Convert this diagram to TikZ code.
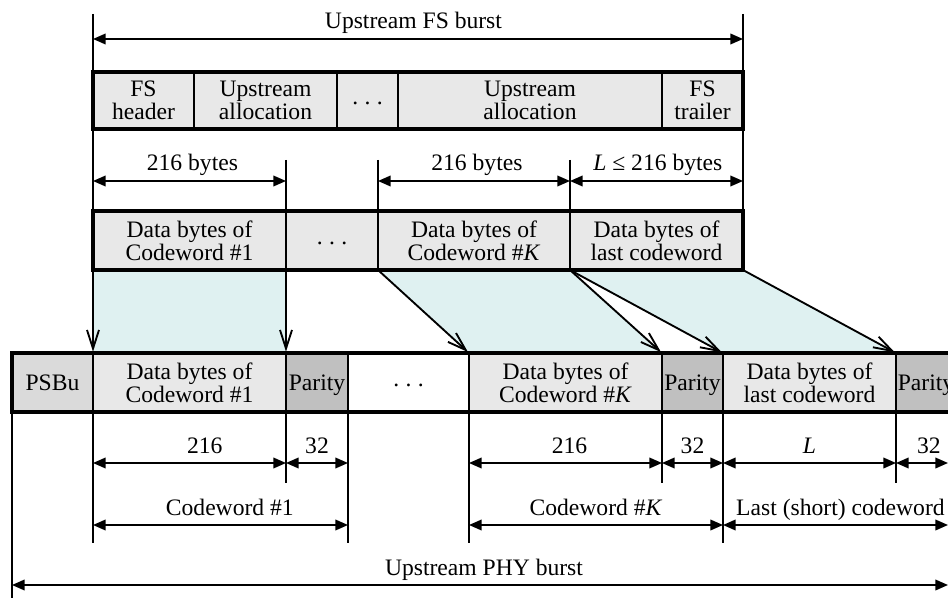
\documentclass[tikz,border=0pt]{standalone}
\usepackage{fontspec}
\setmainfont{Liberation Serif}
\usetikzlibrary{arrows.meta,backgrounds}
\definecolor{cellgray}{HTML}{E8E8E8}
\definecolor{psbgray}{HTML}{DADADA}
\definecolor{pargray}{HTML}{C0C0C0}
\definecolor{mapcyan}{HTML}{DFF1F1}
\newcommand\diagfont{\fontsize{17.7pt}{17pt}\selectfont}
\newcommand\mydots{.\hspace{0.27em}.\hspace{0.27em}.}
\newcommand\twoline[2]{\vbox{\baselineskip=17pt\lineskiplimit=-10pt\halign{\hfil##\hfil\cr #1\cr #2\cr}}}
\begin{document}
\begin{tikzpicture}[x=0.75pt,y=-0.75pt,
 span/.style n args={4}{minimum width={(#3-#1)*0.75pt}, minimum height={(#4-#2)*0.75pt}, at={({(#1+#3)/2},{(#2+#4)/2})}},
 cell/.style={draw, line width=1.5pt, fill=cellgray, inner sep=0pt, outer sep=0pt, font=\diagfont},
 topcell/.style={cell, line width=2.2pt},
 dotcell/.style={text height=0.66em, text depth=0pt},
 parcell/.style={cell, fill=pargray, text depth=0pt},
 outerbox/.style={draw, line width=2.4pt},
 ext/.style={line width=1.2pt},
 dim/.style={line width=1.2pt, {Triangle[length=9.5pt,width=8pt]}-{Triangle[length=9.5pt,width=8pt]}},
 maparrow/.style={line width=1.4pt, -{Straight Barb[length=14pt,width=9pt]}, shorten >=1pt},
 lab/.style={anchor=base, yshift=7.5pt, font=\diagfont}]
\useasboundingbox (0,0) rectangle (948,598);
\clip (0,0) rectangle (948,598);

% ---- Row A: upstream FS burst
\node[topcell, span={93}{72}{194}{129}] (a1) {\twoline{FS}{header}};
\node[topcell, span={194}{72}{337}{129}] (a2) {\twoline{Upstream}{allocation}};
\node[topcell, dotcell, span={337}{72}{398}{129}] (a3) {\mydots};
\node[topcell, span={398}{72}{662}{129}] (a4) {\twoline{Upstream}{allocation}};
\node[topcell, span={662}{72}{743}{129}] (a5) {\twoline{FS}{trailer}};
\draw[outerbox] (a1.north west) rectangle (a5.south east);

% ---- Row B: data bytes
\node[cell, span={93}{211}{286}{270}] (b1) {\twoline{Data bytes of}{Codeword \#1}};
\node[cell, dotcell, span={286}{211}{378}{270}] (b2) {\mydots};
\node[cell, span={378}{211}{570}{270}] (b3) {\twoline{Data bytes of}{Codeword \#\textit{K}}};
\node[cell, span={570}{211}{743}{270}] (b4) {\twoline{Data bytes of}{last codeword}};
\draw[outerbox] (b1.north west) rectangle (b4.south east);

% ---- Row C: upstream PHY burst
\node[cell, fill=psbgray, span={12}{353}{93}{412}] (c0) {PSBu};
\node[cell, span={93}{353}{286}{412}] (c1) {\twoline{Data bytes of}{Codeword \#1}};
\node[parcell, span={286}{353}{348}{412}] (c2) {Parity};
\node[cell, dotcell, fill=white, span={348}{353}{469}{412}] (c3) {\mydots};
\node[cell, span={469}{353}{662}{412}] (c4) {\twoline{Data bytes of}{Codeword \#\textit{K}}};
\node[parcell, span={662}{353}{723}{412}] (c5) {Parity};
\node[cell, span={723}{353}{896}{412}] (c6) {\twoline{Data bytes of}{last codeword}};
\node[parcell, span={896}{353}{956}{412}] (c7) {Parity};
\draw[outerbox] (c0.north west) rectangle (c7.south east);

% ---- mapping regions and extension lines (behind)
\coordinate (xa) at (93,14);
\coordinate (xb) at (743,14);
\coordinate (xc) at (286,160);
\coordinate (xd) at (378,160);
\coordinate (xe) at (570,160);
\coordinate (ya) at (12,600);
\coordinate (yb) at (93,543);
\coordinate (yc) at (286,483);
\coordinate (yd) at (348,543);
\coordinate (ye) at (469,543);
\coordinate (yf) at (662,483);
\coordinate (yg) at (723,543);
\coordinate (yh) at (896,483);
\begin{scope}[on background layer]
\fill[mapcyan] (b1.south west) -- (b1.south east) -- (c1.north east) -- (c1.north west) -- cycle;
\fill[mapcyan] (b3.south west) -- (b3.south east) -- (c4.north east) -- (c4.north west) -- cycle;
\fill[mapcyan] (b4.south west) -- (b4.south east) -- (c6.north east) -- (c6.north west) -- cycle;
\draw[ext] (xa) -- (b1.north west);
\draw[ext] (xb) -- (b4.north east);
\draw[ext] (xc) -- (b1.north east);
\draw[ext] (xd) -- (b3.north west);
\draw[ext] (xe) -- (b4.north west);
\draw[ext] (c0.south west) -- (ya);
\draw[ext] (c1.south west) -- (yb);
\draw[ext] (c2.south west) -- (yc);
\draw[ext] (c2.south east) -- (yd);
\draw[ext] (c4.south west) -- (ye);
\draw[ext] (c5.south west) -- (yf);
\draw[ext] (c6.south west) -- (yg);
\draw[ext] (c7.south west) -- (yh);
\end{scope}

% ---- mapping arrows
\draw[maparrow] (b1.south west) -- (c1.north west);
\draw[maparrow] (b1.south east) -- (c1.north east);
\draw[maparrow] (b3.south west) -- (c4.north west);
\draw[maparrow] (b3.south east) -- (c4.north east);
\draw[maparrow] (b4.south west) -- (c6.north west);
\draw[maparrow] (b4.south east) -- (c6.north east);

% ---- dimension arrows
\coordinate (fsL) at (93,39);  \coordinate (fsR) at (743,39);
\draw[dim] (fsL) -- node[lab, xshift=-3.4pt] {Upstream FS burst} (fsR);

\coordinate (r1L) at (93,181);  \coordinate (r1R) at (286,181);
\coordinate (r2L) at (378,181); \coordinate (r2R) at (570,181);
\coordinate (r3R) at (743,181);
\draw[dim] (r1L) -- node[lab, xshift=2.2pt] {216 bytes} (r1R);
\draw[dim] (r2L) -- node[lab, xshift=2.2pt] {216 bytes} (r2R);
\draw[dim] (r2R) -- node[lab, xshift=1pt] {\textit{L} ≤ 216 bytes} (r3R);

\coordinate (s1) at (93,463);  \coordinate (s2) at (286,463);
\coordinate (s3) at (348,463); \coordinate (s4) at (469,463);
\coordinate (s5) at (662,463); \coordinate (s6) at (723,463);
\coordinate (s7) at (896,463); \coordinate (s8) at (948,463);
\draw[dim] (s1) -- node[lab, xshift=11.5pt] {216} (s2);
\draw[dim] (s2) -- node[lab] {32} (s3);
\draw[dim] (s4) -- node[lab, xshift=3pt] {216} (s5);
\draw[dim] (s5) -- node[lab] {32} (s6);
\draw[dim] (s6) -- node[lab] {\textit{L}} (s7);
\draw[dim] (s7) -- node[lab, xshift=5.2pt] {32} (s8);

\coordinate (t1) at (93,525);  \coordinate (t2) at (348,525);
\coordinate (t3) at (469,525); \coordinate (t4) at (723,525);
\coordinate (t5) at (948,525);
\draw[dim] (t1) -- node[lab, xshift=7pt] {Codeword \#1} (t2);
\draw[dim] (t3) -- node[lab] {Codeword \#\textit{K}} (t4);
\draw[dim] (t4) -- node[lab, xshift=3.7pt] {Last (short) codeword} (t5);

\coordinate (u1) at (12,585); \coordinate (u2) at (948,585);
\draw[dim] (u1) -- node[lab, xshift=3pt] {Upstream PHY burst} (u2);
\end{tikzpicture}
\end{document}
